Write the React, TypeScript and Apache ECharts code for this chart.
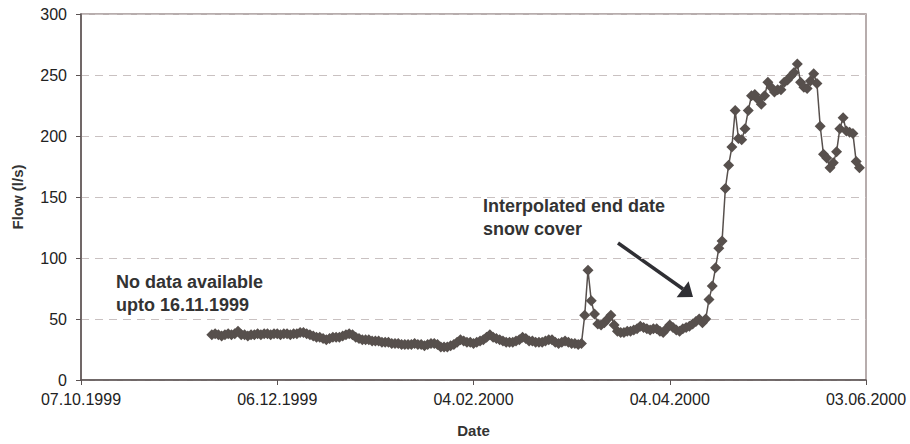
import React, { useEffect, useRef } from "react";
import * as echarts from "echarts";

// Axis tick labels (every 60 days from 07.10.1999)
const xTickLabels = ["07.10.1999", "06.12.1999", "04.02.2000", "04.04.2000", "03.06.2000"];
const axisStart = "1999-10-07";
const firstDataDate = "1999-11-16";

// Daily flow values (l/s) starting 16.11.1999
const flowNov = [37, 38, 37, 36, 37, 38, 37, 38, 40, 37, 37, 36, 37, 37, 38];
const flowDec = [37, 38, 38, 37, 38, 38, 37, 38, 38, 37, 38, 38, 39, 39, 38, 37, 36, 35, 35, 34, 33, 34, 35, 35, 35, 36, 37, 38, 37, 35, 34];
const flowJan = [33, 33, 33, 32, 32, 32, 31, 31, 31, 30, 30, 30, 29, 29, 29, 29, 30, 29, 29, 28, 29, 30, 30, 29, 27, 27, 27, 28, 29, 31, 33];
const flowFeb = [32, 31, 31, 30, 31, 32, 33, 35, 37, 35, 34, 33, 32, 31, 31, 31, 32, 33, 35, 34, 32, 32, 31, 31, 31, 32, 33, 33, 31];
const flowMar = [30, 31, 32, 31, 30, 30, 29, 30, 53, 90, 65, 54, 46, 45, 47, 50, 53, 45, 40, 39, 39, 40, 40, 41, 42, 44, 43, 42, 41, 42, 42];
const flowApr = [40, 39, 42, 45, 43, 41, 40, 42, 43, 44, 46, 48, 50, 47, 50, 66, 77, 92, 108, 114, 157, 176, 191, 221, 198, 197, 206, 221, 233, 234];
const flowMay = [230, 226, 233, 244, 240, 236, 238, 238, 244, 246, 249, 252, 259, 244, 240, 239, 245, 251, 243, 208, 185, 182, 174, 178, 187, 206, 215, 204, 203, 202, 179];
const flowJun = [174];

const flow = [...flowNov, ...flowDec, ...flowJan, ...flowFeb, ...flowMar, ...flowApr, ...flowMay, ...flowJun];

const yTicks = [0, 50, 100, 150, 200, 250, 300];

const DAY = 86400000;
const dayIndex = (iso: string) => (Date.parse(iso + "T00:00:00Z") - Date.parse(axisStart + "T00:00:00Z")) / DAY;

export default function App() {
  const ref = useRef<HTMLDivElement>(null);
  useEffect(() => {
    if (!ref.current) return;
    const chart = echarts.init(ref.current, undefined, { renderer: "svg" });
    const start = dayIndex(firstDataDate);
    const data = flow.map((v, i) => [start + i, v]);
    const font = "'Liberation Sans', Arial, sans-serif";
    chart.setOption({
      animation: false,
      backgroundColor: "#ffffff",
      grid: {
        left: 81,
        right: 44,
        top: 14,
        bottom: 64,
        show: true,
        borderColor: "#a09393",
        borderWidth: 1.5,
      },
      xAxis: {
        type: "value",
        min: 0,
        max: 240,
        interval: 60,
        name: "Date",
        nameLocation: "middle",
        nameGap: 43,
        nameTextStyle: { fontFamily: font, fontWeight: "bold", fontSize: 15, color: "#333" },
        axisLine: { show: true, lineStyle: { color: "#5a5252", width: 1.5 } },
        axisTick: { show: true, length: 5, lineStyle: { color: "#5a5252" } },
        axisLabel: {
          margin: 11,
          fontFamily: font,
          fontSize: 16,
          color: "#222",
          formatter: (v: number) => xTickLabels[Math.round(v / 60)] ?? "",
        },
        splitLine: { show: false },
      },
      yAxis: {
        type: "value",
        min: yTicks[0],
        max: yTicks[yTicks.length - 1],
        interval: 50,
        name: "Flow (l/s)",
        nameLocation: "middle",
        nameGap: 56,
        nameTextStyle: { fontFamily: font, fontWeight: "bold", fontSize: 15, color: "#333" },
        axisLine: { show: true, lineStyle: { color: "#5a5252", width: 1.5 } },
        axisTick: { show: true, length: 5, lineStyle: { color: "#5a5252" } },
        axisLabel: { margin: 14, fontFamily: font, fontSize: 16, color: "#222" },
        splitLine: { show: true, lineStyle: { color: "#c9c1c1", type: [8, 6], width: 1 } },
      },
      series: [
        {
          type: "line",
          data,
          symbol: "diamond",
          symbolSize: 11,
          showAllSymbol: true,
          lineStyle: { color: "#57504d", width: 1.5 },
          itemStyle: { color: "#57504d" },
          z: 3,
        },
      ],
      graphic: [
        {
          type: "text",
          left: 116,
          top: 270,
          style: {
            text: "No data available\nupto 16.11.1999",
            font: `bold 18px ${font}`,
            fill: "#333",
            lineHeight: 23.5,
          },
        },
        {
          type: "text",
          left: 483,
          top: 194,
          style: {
            text: "Interpolated end date\nsnow cover",
            font: `bold 18px ${font}`,
            fill: "#333",
            lineHeight: 23.5,
          },
        },
        {
          type: "line",
          shape: { x1: 618, y1: 243, x2: 683, y2: 289 },
          style: { stroke: "#2f2f34", lineWidth: 3.5 },
        },
        {
          type: "polygon",
          shape: { points: [[693, 297], [676.6, 297.2], [688.6, 281.2]] },
          style: { fill: "#2f2f34" },
        },
      ],
    });
    return () => chart.dispose();
  }, []);
  return <div ref={ref} style={{ position: "fixed", left: 0, top: 0, width: 910, height: 444 }} />;
}
